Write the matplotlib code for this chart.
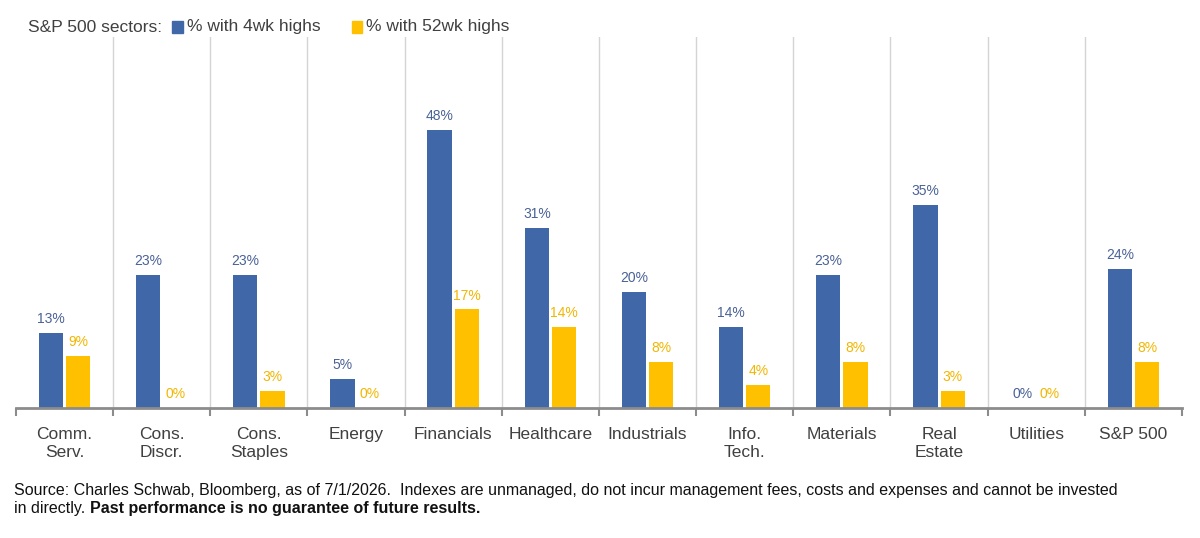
import matplotlib.pyplot as plt
import numpy as np

categories = ['Comm.\nServ.', 'Cons.\nDiscr.', 'Cons.\nStaples', 'Energy', 'Financials',
              'Healthcare', 'Industrials', 'Info.\nTech.', 'Materials', 'Real\nEstate',
              'Utilities', 'S&P 500']
pct_4wk = [13, 23, 23, 5, 48, 31, 20, 14, 23, 35, 0, 24]
pct_52wk = [9, 0, 3, 0, 17, 14, 8, 4, 8, 3, 0, 8]

blue = '#4068A8'
yellow = '#FFC000'
blue_txt = '#4A6296'
yellow_txt = '#F2B600'
grey_txt = '#404040'

plt.rcParams['font.family'] = ['Liberation Sans', 'DejaVu Sans']

fig = plt.figure(figsize=(12, 5.38), dpi=100)
ax = fig.add_axes([0.0133, 0.2416, 0.9717, 0.6896])

x = np.arange(len(categories))
w = 0.25
off = 0.14
ax.bar(x - off, pct_4wk, width=w, color=blue)
ax.bar(x + off, pct_52wk, width=w, color=yellow)

for i in range(len(categories)):
    ax.text(x[i] - off, pct_4wk[i] + 1.2, f'{pct_4wk[i]}%', ha='center', va='bottom',
            fontsize=10, color=blue_txt)
    ax.text(x[i] + off, pct_52wk[i] + 1.2, f'{pct_52wk[i]}%', ha='center', va='bottom',
            fontsize=10, color=yellow_txt)

# separators between sectors
for b in np.arange(0.5, len(categories) - 1, 1.0):
    ax.axvline(b, color='#D4D4D4', lw=1, zorder=0)

ax.set_xlim(-0.5, len(categories) - 0.5)
ax.set_ylim(0, 64)
for s in ['top', 'right', 'left']:
    ax.spines[s].set_visible(False)
ax.spines['bottom'].set_color('#8C8C8C')
ax.spines['bottom'].set_linewidth(2)
ax.set_yticks([])
ax.set_xticks(np.arange(-0.5, len(categories), 1.0))
ax.set_xticklabels([])
ax.tick_params(axis='x', length=6, width=1.5, color='#8C8C8C', direction='out')
for i, c in enumerate(categories):
    ax.text(x[i], -3.3, c, ha='center', va='top', fontsize=12.5, color=grey_txt,
            linespacing=1.2)

# legend line at top
fig.text(28 / 1200, 1 - 27 / 538, 'S&P 500 sectors:', fontsize=12.5, color=grey_txt, va='center')
fig.patches.append(plt.Rectangle((172 / 1200, 1 - 33 / 538), 11 / 1200, 12 / 538,
                                 color=blue, transform=fig.transFigure))
fig.text(187 / 1200, 1 - 27 / 538, '% with 4wk highs', fontsize=12.5, color=grey_txt, va='center')
fig.patches.append(plt.Rectangle((352 / 1200, 1 - 33 / 538), 10 / 1200, 12 / 538,
                                 color=yellow, transform=fig.transFigure))
fig.text(366 / 1200, 1 - 27 / 538, '% with 52wk highs', fontsize=12.5, color=grey_txt, va='center')

# footer
fig.text(14 / 1200, 1 - 490 / 538,
         'Source: Charles Schwab, Bloomberg, as of 7/1/2026.  Indexes are unmanaged, do not incur '
         'management fees, costs and expenses and cannot be invested',
         fontsize=11.5, color='#111111', va='center')
t1 = fig.text(14 / 1200, 1 - 509 / 538, 'in directly. ', fontsize=11.5, color='#111111',
              va='center')
fig.canvas.draw()
bb = t1.get_window_extent()
fig.text(bb.x1 / 1200, 1 - 509 / 538, 'Past performance is no guarantee of future results.',
         fontsize=11.5, color='#111111', va='center', weight='bold')

fig.savefig('out.png', dpi=100, facecolor='white')
